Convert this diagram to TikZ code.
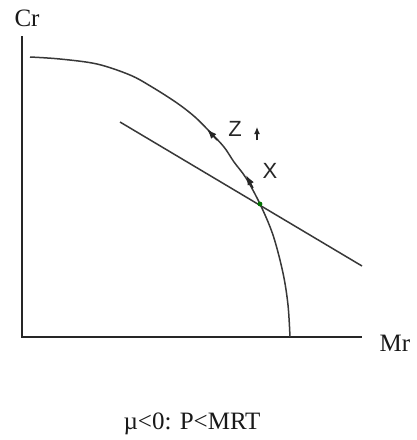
\documentclass[tikz,border=0pt]{standalone}
\usepackage{fontspec}
\setmainfont{Liberation Serif}
\newfontfamily\arialfont{Liberation Sans}
\usetikzlibrary{arrows.meta}
\begin{document}
\begin{tikzpicture}[x=1pt,y=-1pt,
  axis/.style={line width=1.8pt,black!85},
  curvestyle/.style={line width=1.5pt,black!78},
  headstyle/.style={line width=1.5pt,black!85,-{Latex[length=10pt,width=7pt]}},
  serif/.style={font=\fontsize{25}{28}\selectfont,text=black!90,inner sep=0pt},
  sanslab/.style={font=\arialfont\fontsize{22}{26}\selectfont,text=black!85,inner sep=0pt}]
\useasboundingbox (0,0) rectangle (417,440);
\fill[white] (0,0) rectangle (417,440);
% axes
\coordinate (O) at (22,337);
\coordinate (ytop) at (22,36);
\coordinate (xend) at (362,337);
\draw[axis] (ytop) -- (O) -- (xend);
\node[serif] (cr) at (27,18) {Cr};
\node[serif] (mr) at (395,343) {Mr};
% frontier curve
\draw[curvestyle] plot[smooth,tension=0.55] coordinates {
 (30,57) (60,59) (97,64) (130,75) (152,87) (177,103) (195,117) (210,132)
 (224,147) (234,162) (246,178) (260,204) (273,235) (283,273) (288,305) (290,337)};
% price line
\coordinate (l1) at (120,122);
\coordinate (l2) at (362,266);
\draw[curvestyle] (l1) -- (l2);
% tangency point
\fill[green!45!black] (260,204) circle (2.4pt);
% arrowheads on curve
\draw[headstyle] (217,140) -- (207,129);
\draw[headstyle] (253,188) -- (246,175);
% small arrow
\draw[headstyle,line width=1.2pt,-{Latex[length=7pt,width=6pt]}] (257,140) -- (257,127);
% labels
\node[sanslab] (z) at (235,129) {Z};
\node[sanslab] (x) at (270,171) {X};
\node[serif] (cap) at (192,424) {\textmu<0: P<MRT};
\end{tikzpicture}
\end{document}
